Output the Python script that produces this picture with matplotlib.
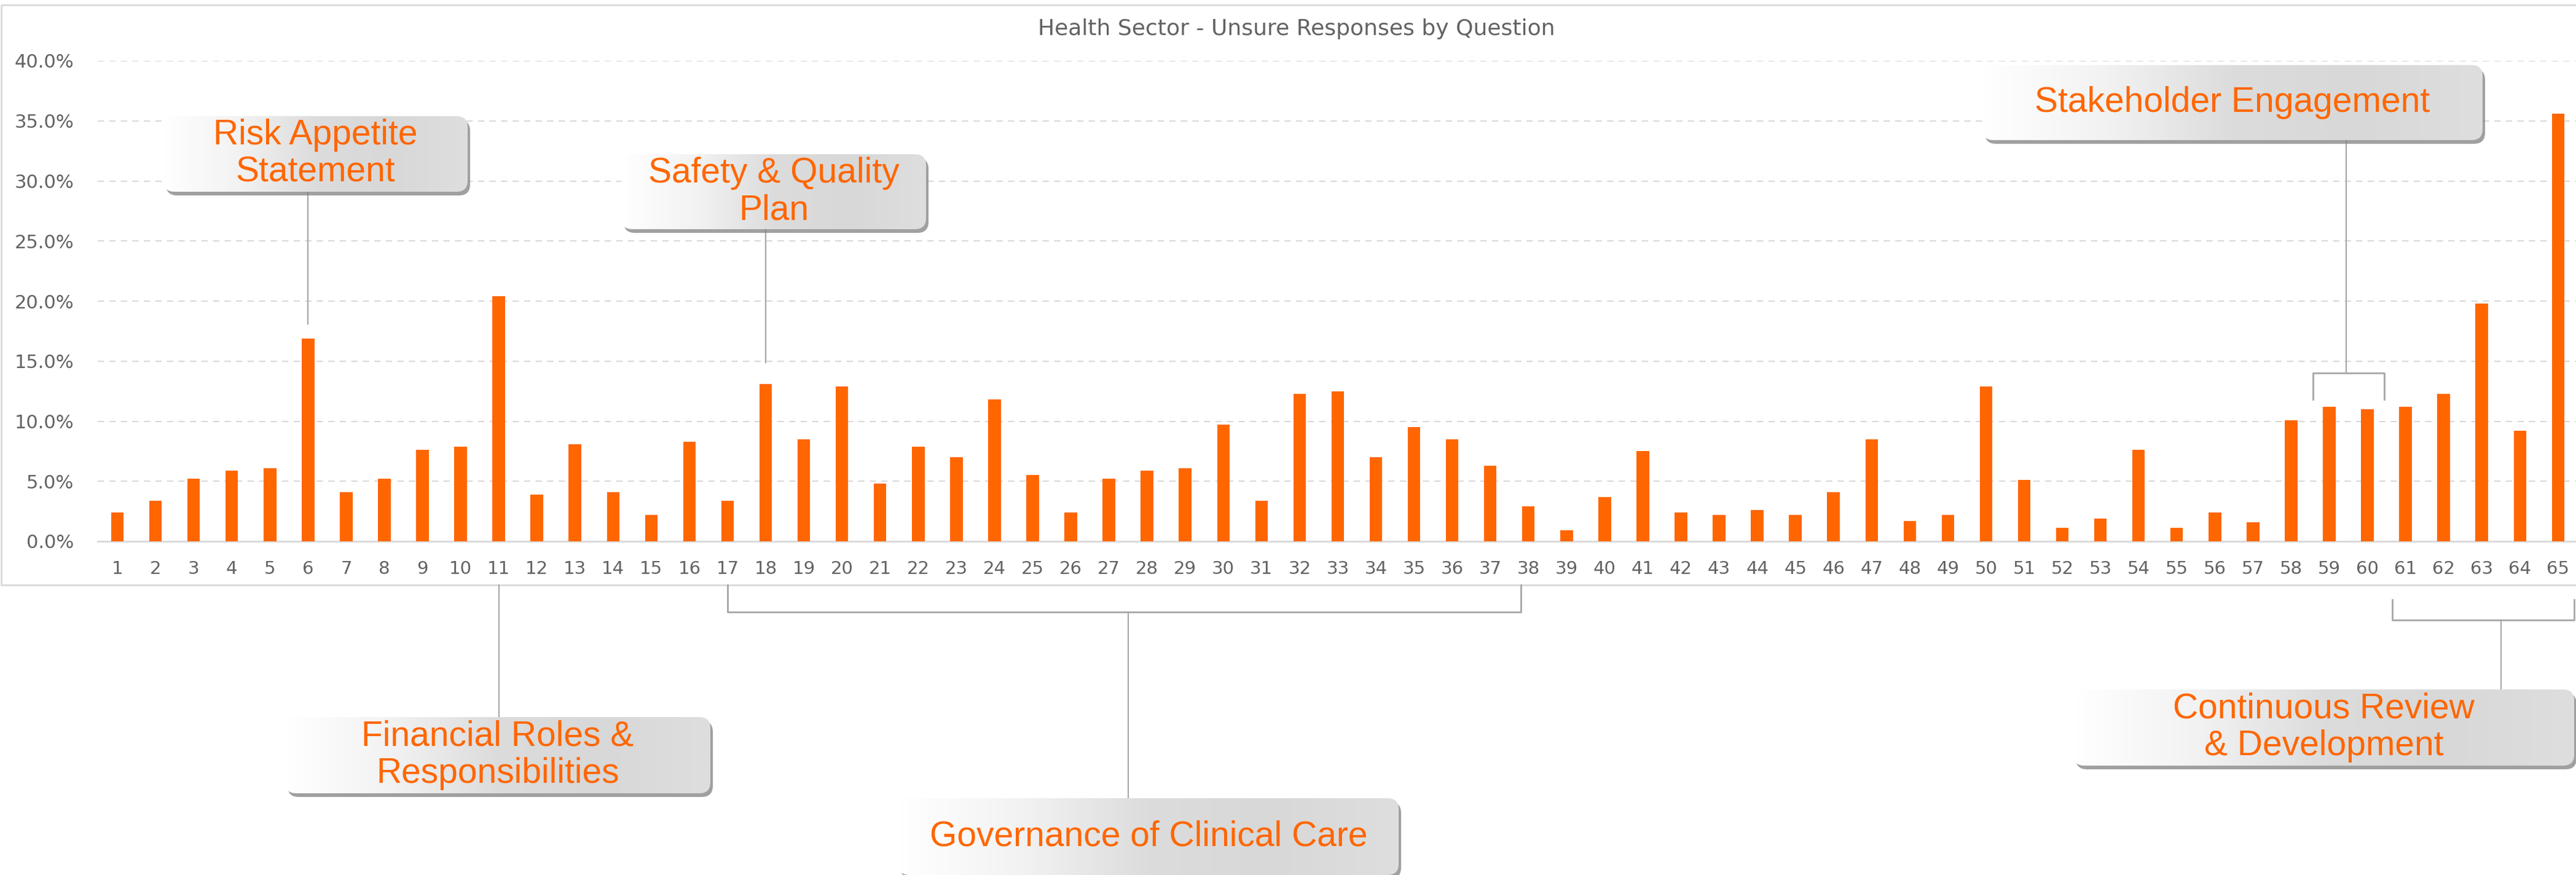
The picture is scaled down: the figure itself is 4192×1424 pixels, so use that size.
import numpy as np
import matplotlib.pyplot as plt
from matplotlib.patches import FancyBboxPatch, Rectangle
from matplotlib.colors import LinearSegmentedColormap

# data
questions = list(range(1, 66))
unsure_pct = [2.4, 3.4, 5.2, 5.9, 6.1, 16.9, 4.1, 5.2, 7.6, 7.9,
              20.4, 3.9, 8.1, 4.1, 2.2, 8.3, 3.4, 13.1, 8.5, 12.9,
              4.8, 7.9, 7.0, 11.8, 5.5, 2.4, 5.2, 5.9, 6.1, 9.7,
              3.4, 12.3, 12.5, 7.0, 9.5, 8.5, 6.3, 2.9, 0.9, 3.7,
              7.5, 2.4, 2.2, 2.6, 2.2, 4.1, 8.5, 1.7, 2.2, 12.9,
              5.1, 1.1, 1.9, 7.6, 1.1, 2.4, 1.6, 10.1, 11.2, 11.0,
              11.2, 12.3, 19.8, 9.2, 35.6]
y_ticks = [0, 5, 10, 15, 20, 25, 30, 35, 40]
title = "Health Sector - Unsure Responses by Question"

ORANGE = '#FF6600'
GREY_TXT = '#636363'
LINE = '#a6a6a6'

W, H = 4192, 1424
fig = plt.figure(figsize=(W / 100, H / 100), dpi=100)
fig.patch.set_facecolor('white')

ax = fig.add_axes([159 / W, 1 - 881 / H, (W - 159) / W, (881 - 99) / H])
ax.bar(questions, unsure_pct, width=0.33, color=ORANGE, zorder=3)
ax.set_xlim(0.484, 65.47)
ax.set_ylim(0, 40)
ax.set_yticks(y_ticks)
ax.yaxis.set_major_formatter(lambda v, p: f"{v:.1f}%")
ax.set_xticks(questions)
ax.tick_params(axis='y', length=0, labelcolor=GREY_TXT, labelsize=22, pad=28)
ax.tick_params(axis='x', length=0, labelcolor=GREY_TXT, labelsize=21, pad=22)
ax.grid(axis='y', linestyle=(0, (5, 4)), color='#d9d9d9', lw=1.5, zorder=0)
for s in ['top', 'right', 'left']:
    ax.spines[s].set_visible(False)
ax.spines['bottom'].set_color('#d9d9d9')
ax.spines['bottom'].set_linewidth(2)

fig.text(2110 / W, 1 - 47 / H, title, ha='center', va='center',
         fontsize=26, color=GREY_TXT)

# overlay in pixel coords for the callouts
ov = fig.add_axes([0, 0, 1, 1], zorder=5)
ov.axis('off')
ov.patch.set_alpha(0)


def px(q):
    return ax.transData.transform((q, 0))[0]


def py(v):
    return H - ax.transData.transform((0, v))[1]


# chart frame
ov.add_patch(Rectangle((2, 8), W, 944, fill=False, ec='#d9d9d9', lw=2))

cm = LinearSegmentedColormap.from_list('box', ['#ffffff', '#f2f2f2', '#dcdcdc', '#d8d8d8', '#dedede'])
grad = np.linspace(0, 1, 256).reshape(1, -1)


def callout(text, x0, y0, x1, y1):
    shadow = FancyBboxPatch((x0 + 4, y0 + 6), x1 - x0, y1 - y0,
                            boxstyle='round,pad=0,rounding_size=18',
                            fc='#808080', ec='none', alpha=0.75, zorder=6)
    box = FancyBboxPatch((x0, y0), x1 - x0, y1 - y0,
                         boxstyle='round,pad=0,rounding_size=18',
                         fc='none', ec='none', zorder=7)
    ov.add_patch(shadow)
    ov.add_patch(box)
    im = ov.imshow(grad, extent=(x0, x1, y1, y0), cmap=cm, aspect='auto',
                   interpolation='bilinear', zorder=7)
    im.set_clip_path(box)
    ov.text((x0 + x1) / 2, (y0 + y1) / 2, text, ha='center', va='center',
            color=ORANGE, fontsize=41, family='Liberation Sans',
            linespacing=1.15, zorder=8)


# connector lines / brackets
ov.plot([px(6)] * 2, [312, py(18.1)], color=LINE, lw=1.5)
ov.plot([px(18)] * 2, [373, py(14.9)], color=LINE, lw=1.5)
ov.plot([px(58.57), px(58.57), px(60.44), px(60.44)],
        [py(11.8), py(14.0), py(14.0), py(11.8)], color=LINE, lw=2)
ov.plot([px(59.45)] * 2, [py(14.0), 228], color=LINE, lw=1.5)
ov.plot([px(11)] * 2, [952, 1167], color=LINE, lw=1.5)
ov.plot([px(17), px(17), px(37.8), px(37.8)], [952, 996, 996, 952], color=LINE, lw=2)
ov.plot([px(27.5)] * 2, [996, 1299], color=LINE, lw=1.5)
ov.plot([px(60.65), px(60.65), px(65.42), px(65.42)], [976, 1009, 1009, 976], color=LINE, lw=2)
ov.plot([px(63.5)] * 2, [1009, 1122], color=LINE, lw=1.5)

callout("Risk Appetite\nStatement", 266, 189, 761, 312)
callout("Safety & Quality\nPlan", 1011, 251, 1507, 373)
callout("Stakeholder Engagement", 3226, 106, 4040, 228)
callout("Financial Roles &\nResponsibilities", 464, 1167, 1156, 1291)
callout("Governance of Clinical Care", 1462, 1299, 2276, 1424)
callout("Continuous Review\n& Development", 3374, 1122, 4189, 1246)

ov.set_xlim(0, W)
ov.set_ylim(H, 0)

fig.savefig('out.png', dpi=100)
